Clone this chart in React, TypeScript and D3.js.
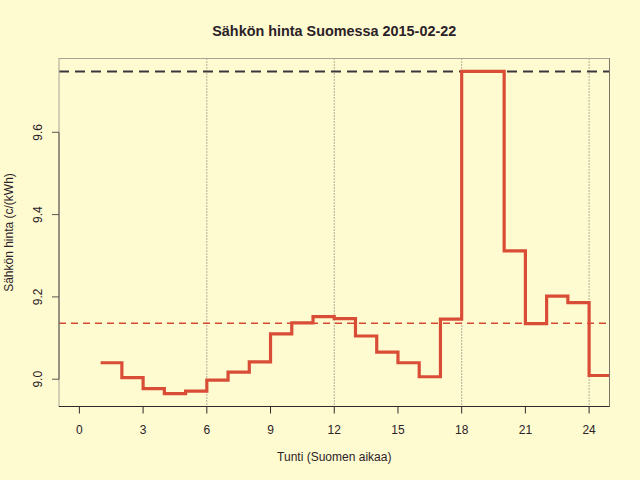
import React from "react";
import * as d3 from "d3";

// tunnit (alkuhetki) ja hinnat c/kWh
const hours: number[] = [1, 2, 3, 4, 5, 6, 7, 8, 9, 10, 11, 12, 13, 14, 15, 16, 17, 18, 19, 20, 21, 22, 23, 24];
const prices: number[] = [
    9.040, 9.004, 8.977, 8.965, 8.971, 8.998, 9.017, 9.042, 9.110, 9.137, 9.152, 9.147,
    9.105, 9.066, 9.040, 9.006, 9.146, 9.748, 9.748, 9.312, 9.135, 9.202, 9.186, 9.009,
];
const xTicks: number[] = [0, 3, 6, 9, 12, 15, 18, 21, 24];
const yTicks: number[] = [9.0, 9.2, 9.4, 9.6];
const gridHours: number[] = [6, 12, 18, 24];

const width = 640;
const height = 480;
const margin = { top: 58.5, right: 30.5, bottom: 73.5, left: 59 };
const font = "'Liberation Sans', Arial, Helvetica, sans-serif";

type Point = { h: number; p: number };

export default function App() {
    const innerW = width - margin.left - margin.right;
    const innerH = height - margin.top - margin.bottom;

    // R-tyylinen 4 % laajennus
    const xr = [0, 24];
    const xPad = (xr[1] - xr[0]) * 0.04;
    const x = d3.scaleLinear().domain([xr[0] - xPad, xr[1] + xPad]).range([0, innerW]);

    const yMin = d3.min(prices) as number;
    const yMax = d3.max(prices) as number;
    const yPad = (yMax - yMin) * 0.04;
    const y = d3.scaleLinear().domain([yMin - yPad, yMax + yPad]).range([innerH, 0]);

    const mean = d3.mean(prices) as number;

    // viimeinen tunti jatkuu tunnin eteenpäin
    const pts: Point[] = hours.map((h, i) => ({ h, p: prices[i] }));
    pts.push({ h: hours[hours.length - 1] + 1, p: prices[prices.length - 1] });

    const line = d3.line<Point>()
        .x((d) => x(d.h))
        .y((d) => y(d.p))
        .curve(d3.curveStepAfter);

    return (
        <svg width={width} height={height} style={{ position: "absolute", left: 0, top: 0, background: "#fffbd0" }}>
            <rect width={width} height={height} fill="#fffbd0" />
            <defs>
                <clipPath id="plot">
                    <rect x={0} y={0} width={innerW} height={innerH} />
                </clipPath>
            </defs>
            <text x={margin.left + innerW / 2} y={36} textAnchor="middle" fontFamily={font}
                fontWeight="bold" fontSize={14.4} fill="#2a2228">
                Sähkön hinta Suomessa 2015-02-22
            </text>
            <g transform={`translate(${margin.left},${margin.top})`}>
                {/* pystyviivat */}
                {gridHours.map((h) => (
                    <line key={h} x1={x(h)} x2={x(h)} y1={0} y2={innerH}
                        stroke="#6a6560" strokeWidth={1} strokeDasharray="1,2" />
                ))}
                {/* keskiarvo ja maksimi */}
                <line x1={0} x2={innerW} y1={y(mean)} y2={y(mean)}
                    stroke="#d44a34" strokeWidth={1.5} strokeDasharray="7,5" />
                <line x1={0} x2={innerW} y1={y(yMax)} y2={y(yMax)}
                    stroke="#3a3838" strokeWidth={2} strokeDasharray="10,6" />
                <path d={line(pts) as string} fill="none" stroke="#d94d37" strokeWidth={3.2}
                    clipPath="url(#plot)" />
                {/* laatikko */}
                <rect x={0} y={0} width={innerW} height={innerH} fill="none" stroke="#a9a394" strokeWidth={1} />
                <line x1={innerW} x2={innerW} y1={0} y2={innerH} stroke="#7a746c" strokeWidth={1} />
                <line x1={0} x2={innerW} y1={innerH} y2={innerH} stroke="#2e2a2e" strokeWidth={1} />
                {/* x-akseli */}
                {xTicks.map((t) => (
                    <g key={t} transform={`translate(${x(t)},${innerH})`}>
                        <line y1={0} y2={7} stroke="#2e2a2e" />
                        <text y={27} textAnchor="middle" fontFamily={font} fontSize={12} fill="#2a2228">{t}</text>
                    </g>
                ))}
                {/* y-akseli */}
                <line x1={0} x2={0} y1={y(yTicks[0])} y2={y(yTicks[yTicks.length - 1])} stroke="#5a5552" />
                {yTicks.map((t) => (
                    <g key={t} transform={`translate(0,${y(t)})`}>
                        <line x1={0} x2={-7} stroke="#5a5552" />
                        <text transform="translate(-17,0) rotate(-90)" textAnchor="middle"
                            fontFamily={font} fontSize={12} fill="#2a2228">{t.toFixed(1)}</text>
                    </g>
                ))}
            </g>
            <text x={margin.left + innerW / 2} y={461} textAnchor="middle" fontFamily={font}
                fontSize={12} fill="#2a2228">Tunti (Suomen aikaa)</text>
            <text transform={`translate(13,${margin.top + innerH / 2}) rotate(-90)`} textAnchor="middle"
                fontFamily={font} fontSize={12} fill="#2a2228">Sähkön hinta (c/(kWh)</text>
        </svg>
    );
}
